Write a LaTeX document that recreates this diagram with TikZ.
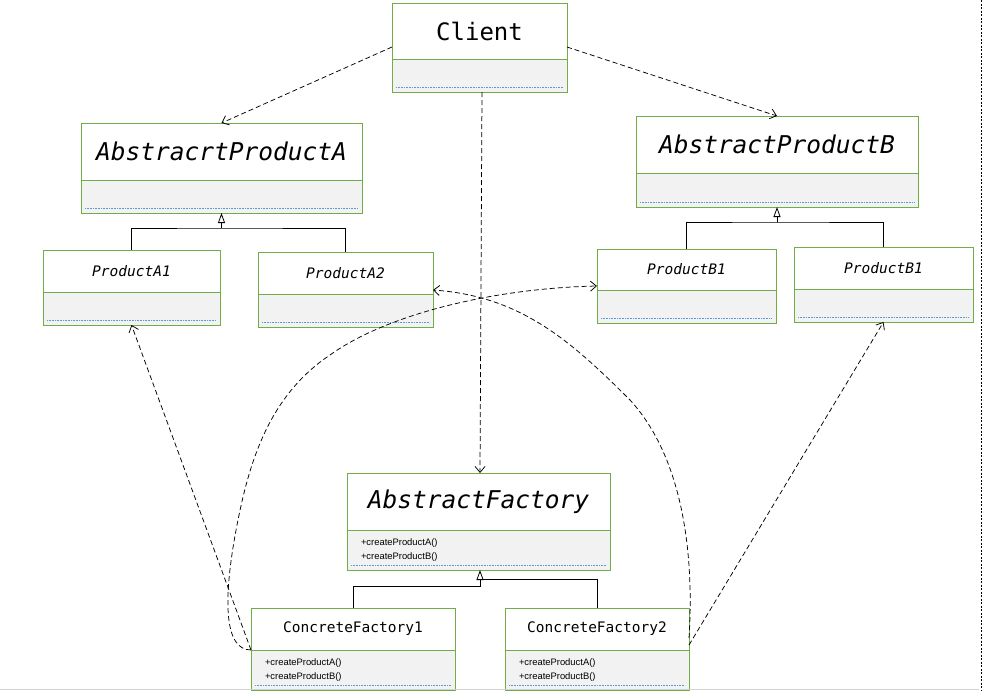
\documentclass[tikz,border=0pt]{standalone}
\usepackage{fontspec}
\usepackage{xcolor}
\usepackage{tikz}
\usetikzlibrary{arrows.meta, positioning}

\newfontfamily\umlmono{DejaVu Sans Mono}
\newfontfamily\umlsans{Liberation Sans}
\definecolor{umlgreen}{RGB}{112,173,71}
\definecolor{umlgray}{RGB}{242,242,242}
\definecolor{umlblue}{RGB}{91,155,213}

\begin{document}
\begin{tikzpicture}[x=1pt, y=-1pt,
    umltitle/.style={draw=umlgreen, line width=1pt, fill=white, inner sep=0pt, outer sep=0pt,
        anchor=north west, font=\umlmono\itshape\fontsize{14.5}{16}\selectfont},
    abstitle/.style={font=\umlmono\itshape\fontsize{24.5}{28}\selectfont},
    classops/.style={draw=umlgreen, line width=1pt, fill=umlgray, inner xsep=14pt, inner ysep=0pt,
        outer sep=0pt, anchor=north west, align=left, font=\umlsans\fontsize{9.4}{14}\selectfont},
    sepline/.style={umlblue, densely dotted, line width=0.6pt},
    genline/.style={line width=0.8pt},
    gen/.style={line width=0.8pt, -{Triangle[open, length=10pt, width=7pt]}},
    dep/.style={dash pattern=on 5pt off 3pt, line width=0.75pt, -{Straight Barb[length=6pt, width=10pt]}}]

    \useasboundingbox (0,0) rectangle (983,691);

    % Client
    \node[umltitle, minimum width=175pt, minimum height=56pt, font=\umlmono\fontsize{24}{28}\selectfont] (client) at (392,3) {Client};
    \node[classops, minimum width=175pt, minimum height=33pt] (client-ops) at (client.south west) {};

    % Prodotti astratti
    \node[umltitle, abstitle, minimum width=281pt, minimum height=57pt] (apa) at (81,123) {AbstracrtProductA};
    \node[classops, minimum width=281pt, minimum height=33pt] (apa-ops) at (apa.south west) {};
    \node[umltitle, abstitle, minimum width=282pt, minimum height=57pt] (apb) at (636,116) {AbstractProductB};
    \node[classops, minimum width=282pt, minimum height=34pt] (apb-ops) at (apb.south west) {};

    % Prodotti concreti
    \node[umltitle, minimum width=177pt, minimum height=42pt] (pa1) at (43,250) {ProductA1};
    \node[classops, minimum width=177pt, minimum height=33pt] (pa1-ops) at (pa1.south west) {};
    \node[umltitle, minimum width=175pt, minimum height=42pt] (pa2) at (258,252) {ProductA2};
    \node[classops, minimum width=175pt, minimum height=33pt] (pa2-ops) at (pa2.south west) {};
    \node[umltitle, minimum width=179pt, minimum height=41pt] (pb1) at (597,249) {ProductB1};
    \node[classops, minimum width=179pt, minimum height=33pt] (pb1-ops) at (pb1.south west) {};
    \node[umltitle, minimum width=179pt, minimum height=42pt] (pb2) at (794,247) {ProductB1};
    \node[classops, minimum width=179pt, minimum height=33pt] (pb2-ops) at (pb2.south west) {};

    % Fabbriche
    \node[umltitle, abstitle, minimum width=263pt, minimum height=57pt] (af) at (347,473) {AbstractFactory};
    \node[classops, text width=235pt, minimum height=40pt] (af-ops) at (af.south west) {+createProductA()\\+createProductB()};
    \node[umltitle, minimum width=204pt, minimum height=42pt, font=\umlmono\fontsize{14.5}{16}\selectfont] (cf1) at (251,608) {ConcreteFactory1};
    \node[classops, text width=176pt, minimum height=40pt] (cf1-ops) at (cf1.south west) {+createProductA()\\+createProductB()};
    \node[umltitle, minimum width=184pt, minimum height=42pt, font=\umlmono\fontsize{14.5}{16}\selectfont] (cf2) at (505,608) {ConcreteFactory2};
    \node[classops, text width=156pt, minimum height=40pt] (cf2-ops) at (cf2.south west) {+createProductA()\\+createProductB()};

    \foreach \c in {client,apa,apb,pa1,pa2,pb1,pb2,af,cf1,cf2}
        \draw[sepline] ([xshift=4pt,yshift=5pt]\c-ops.south west) -- ([xshift=-4pt,yshift=5pt]\c-ops.south east);

    % Ereditarieta
    \coordinate (ja) at ([yshift=-15pt]apa-ops.south);
    \draw[genline] (pa1.north) |- (ja) -| (pa2.north);
    \draw[gen] (ja) -- (apa-ops.south);
    \coordinate (jb) at ([yshift=-15pt]apb-ops.south);
    \draw[genline] (pb1.north) |- (jb) -| (pb2.north);
    \draw[gen] (jb) -- (apb-ops.south);
    \coordinate (jf1) at ([xshift=1.5pt,yshift=-16pt]af-ops.south);
    \coordinate (jf2) at ([xshift=1.5pt,yshift=-9pt]af-ops.south);
    \draw[genline] (cf1.north) |- (jf1) -- (jf2);
    \draw[genline] (cf2.north) |- (jf2);
    \draw[gen] (jf1) -- ([xshift=1.5pt]af-ops.south);

    % Dipendenze
    \draw[dep] ([yshift=-16pt]client.west) -- (apa.north);
    \draw[dep] ([yshift=-16pt]client.east) -- (apb.north);
    \draw[dep] ([xshift=2.5pt]client-ops.south) -- ([xshift=1.5pt]af.north);
    \draw[dep] (cf1-ops.north west) -- (pa1-ops.south);
    \draw[dep] (cf1-ops.north west) .. controls (224,650) and (222,600) .. (238,520)
        .. controls (250,460) and (270,395) .. (330,355)
        .. controls (390,312) and (500,288) .. ([yshift=4pt]pb1-ops.north west);
    \draw[dep] ([yshift=5pt]cf2-ops.north east) -- (pb2-ops.south);
    \draw[dep] ([yshift=12pt]cf2-ops.north east) .. controls (694,560) and (685,460) .. (630,400)
        .. controls (570,340) and (520,296) .. ([yshift=4pt]pa2-ops.north east);

    % Bordi
    \draw[gray!35] (0,689) -- (979,689);
    \draw[dash pattern=on 2pt off 1.5pt] (981,0) -- (981,691);
\end{tikzpicture}
\end{document}
